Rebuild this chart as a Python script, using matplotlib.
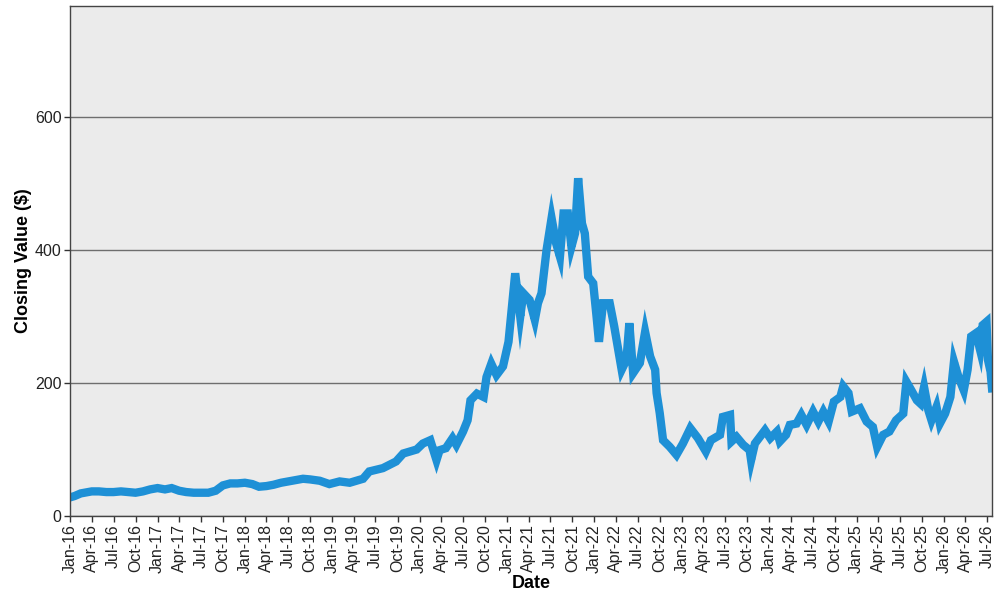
import matplotlib
matplotlib.use("Agg")
import matplotlib.pyplot as plt
import matplotlib.dates as mdates
import pandas as pd

dates = [
    "2016-01-01", "2016-01-20", "2016-02-15", "2016-04-01", "2016-05-01", "2016-06-01",
    "2016-07-01", "2016-08-01", "2016-09-01", "2016-10-01", "2016-11-01", "2016-12-01",
    "2017-01-01", "2017-02-01", "2017-03-01", "2017-04-01", "2017-05-01", "2017-06-01",
    "2017-07-01", "2017-08-01", "2017-09-01", "2017-10-01", "2017-11-01", "2017-12-01",
    "2018-01-01", "2018-02-01", "2018-03-01", "2018-04-01", "2018-05-01", "2018-06-01",
    "2018-07-01", "2018-08-01", "2018-09-01", "2018-10-01", "2018-11-10", "2018-12-20",
    "2019-02-01", "2019-03-15", "2019-05-10", "2019-06-05", "2019-08-01", "2019-09-25",
    "2019-10-25", "2019-12-20", "2020-01-15", "2020-02-15", "2020-03-12", "2020-03-25",
    "2020-04-20", "2020-05-18", "2020-06-03", "2020-07-01", "2020-07-20", "2020-08-01",
    "2020-08-28", "2020-09-25", "2020-10-07", "2020-10-27", "2020-11-18", "2020-12-15",
    "2021-01-07", "2021-02-04", "2021-02-25", "2021-03-10", "2021-04-05", "2021-04-27",
    "2021-05-10", "2021-05-25", "2021-06-15", "2021-07-06", "2021-07-25", "2021-08-10",
    "2021-08-25", "2021-09-12", "2021-09-27", "2021-10-12", "2021-10-25", "2021-11-10",
    "2021-11-22", "2021-12-06", "2021-12-27", "2022-01-10", "2022-01-20", "2022-02-06",
    "2022-03-06", "2022-03-25", "2022-04-25", "2022-05-15", "2022-05-27", "2022-06-12",
    "2022-07-10", "2022-08-01", "2022-08-22", "2022-09-12", "2022-09-18", "2022-10-01",
    "2022-10-15", "2022-11-12", "2022-12-10", "2023-01-06", "2023-02-06", "2023-03-10",
    "2023-04-12", "2023-05-03", "2023-06-10", "2023-06-22", "2023-07-22", "2023-07-28",
    "2023-08-18", "2023-09-15", "2023-10-12", "2023-10-18", "2023-11-03", "2023-12-15",
    "2024-01-06", "2024-02-03", "2024-02-15", "2024-03-12", "2024-03-28", "2024-04-25",
    "2024-05-15", "2024-06-06", "2024-07-03", "2024-07-25", "2024-08-15", "2024-09-06",
    "2024-09-28", "2024-10-25", "2024-11-06", "2024-11-28", "2024-12-12", "2025-01-15",
    "2025-02-12", "2025-03-10", "2025-03-28", "2025-04-22", "2025-05-18", "2025-06-15",
    "2025-07-15", "2025-07-28", "2025-08-18", "2025-09-10", "2025-09-25", "2025-10-10",
    "2025-10-28", "2025-11-10", "2025-12-01", "2025-12-15", "2026-01-06", "2026-01-28",
    "2026-02-12", "2026-03-03", "2026-03-25", "2026-04-10", "2026-04-25", "2026-05-15",
    "2026-06-01", "2026-06-12", "2026-06-28", "2026-07-04", "2026-07-15", "2026-07-21",
]
closes = [
    28, 30, 34, 37, 37, 36,
    36, 37, 36, 35, 37, 40,
    42, 40, 42, 38, 36, 35,
    35, 35, 38, 46, 49, 49,
    50, 48, 44, 45, 47, 50,
    52, 54, 56, 55, 53, 48,
    52, 50, 56, 67, 72, 82,
    94, 100, 109, 114, 84, 99,
    102, 117, 107, 127, 144, 174,
    184, 179, 209, 229, 212, 225,
    262, 365, 300, 335, 325, 295,
    320, 335, 400, 448, 410, 390,
    455, 455, 405, 425, 508, 440,
    425, 360, 350, 300, 262, 320,
    320, 285, 220, 235, 290, 215,
    230, 277, 240, 220, 185, 155,
    114, 104, 92, 109, 132, 117,
    97, 114, 122, 149, 152, 112,
    119, 107, 99, 84, 109, 129,
    117, 127, 112, 122, 137, 139,
    152, 137, 157, 142, 157, 142,
    172, 179, 195, 185, 157, 162,
    142, 134, 104, 122, 127, 144,
    154, 202, 189, 174, 169, 194,
    159, 144, 164, 139, 154, 179,
    232, 209, 189, 220, 270, 275,
    250, 287, 292, 235, 217, 192,
]
y_ticks = [0, 200, 400, 600]
x_label = "Date"
y_label = "Closing Value ($)"

plt.rcParams['font.family'] = ['Liberation Sans', 'DejaVu Sans']

x = pd.to_datetime(dates)

fig = plt.figure(figsize=(10, 6), dpi=100)
ax = fig.add_axes([0.07, 0.14, 0.922, 0.85])
ax.set_facecolor('#EBEBEB')

ax.plot(x, closes, color='#1E90D6', linewidth=6, solid_joinstyle='miter')

ax.set_ylim(0, 767)
ax.set_xlim(pd.Timestamp("2016-01-01"), pd.Timestamp("2026-07-21"))
ax.set_yticks(y_ticks)
ax.yaxis.grid(True, color='#6E6E6E', linewidth=1)
ax.set_axisbelow(True)

ax.xaxis.set_major_locator(mdates.MonthLocator(bymonth=[1, 4, 7, 10]))
ax.xaxis.set_major_formatter(mdates.DateFormatter('%b-%y'))
for lab in ax.get_xticklabels():
    lab.set_rotation(90)

ax.tick_params(axis='both', labelsize=11.5, colors='#333333', length=4, width=1, pad=2)
ax.tick_params(axis='x', labelcolor='#222222')
ax.tick_params(axis='y', labelcolor='#222222')
for s in ax.spines.values():
    s.set_color('#444444')
    s.set_linewidth(1)

ax.set_xlabel(x_label, fontsize=13, fontweight='bold')
ax.set_ylabel(y_label, fontsize=13, fontweight='bold')
ax.xaxis.set_label_coords(0.5, -0.116)
ax.yaxis.set_label_coords(-0.041, 0.5)

fig.savefig("out.png", dpi=100)
